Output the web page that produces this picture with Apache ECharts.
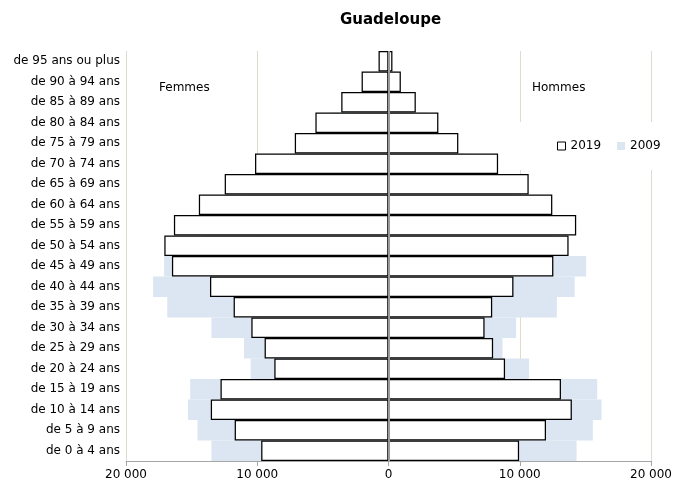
<!DOCTYPE html>
<html><head><meta charset="utf-8">
<script src="https://cdn.jsdelivr.net/npm/echarts@6/dist/echarts.min.js"></script>
<style>html,body{margin:0;padding:0;background:#fff}#c{width:675px;height:488px}</style>
</head><body><div id="c"></div>
<script>
// Categories from bottom (youngest) to top (oldest)
const categories = ['de 0 à 4 ans','de 5 à 9 ans','de 10 à 14 ans','de 15 à 19 ans','de 20 à 24 ans','de 25 à 29 ans','de 30 à 34 ans','de 35 à 39 ans','de 40 à 44 ans','de 45 à 49 ans','de 50 à 54 ans','de 55 à 59 ans','de 60 à 64 ans','de 65 à 69 ans','de 70 à 74 ans','de 75 à 79 ans','de 80 à 84 ans','de 85 à 89 ans','de 90 à 94 ans','de 95 ans ou plus'];
const femmes2019 = [9700,11720,13540,12800,8700,9440,10450,11800,13600,16500,17080,16350,14450,12480,10170,7140,5570,3600,2050,760];
const hommes2019 = [9950,12000,13970,13140,8880,7970,7320,7900,9520,12560,13720,14300,12480,10680,8350,5320,3800,2080,940,300];
const femmes2009 = [13490,14550,15280,15110,10500,11010,13490,16860,17940,17100,14150,12860,10960,8550,7160,5590,4450,2730,1260,580];
const hommes2009 = [14330,15570,16230,15900,10710,8690,9720,12830,14180,15060,12350,10960,9390,6940,5820,4050,2940,1750,640,200];
const xTicks = [-20000, -10000, 0, 10000, 20000];

const FONT = 'DejaVu Sans';
const fmt = v => String(Math.abs(v)).replace(/\B(?=(\d{3})+(?!\d))/g, ' ');

const chart = echarts.init(document.getElementById('c'), null, {renderer: 'canvas'});
const barCommon = {type: 'bar', barWidth: '100%', barCategoryGap: '0%', barGap: '-100%', silent: true};
chart.setOption({
  animation: false,
  backgroundColor: '#fff',
  title: {
    text: 'Guadeloupe', left: 335, top: 8,
    textStyle: {fontFamily: FONT, fontWeight: 'bold', fontSize: 15, color: '#000'}
  },
  legend: {
    data: [
      {name: '2019', itemStyle: {color: '#fff', borderColor: '#000', borderWidth: 1}},
      {name: '2009', itemStyle: {color: '#dce6f2', borderWidth: 0}}
    ],
    icon: 'rect', itemWidth: 8, itemHeight: 8, itemGap: 16,
    left: 512, top: 122,
    padding: [18, 10, 18, 45],
    backgroundColor: '#fff',
    textStyle: {fontFamily: FONT, fontSize: 12, color: '#000'},
    selectedMode: false
  },
  graphic: [
    {type: 'text', left: 159, top: 82, style: {text: 'Femmes', font: '12px "DejaVu Sans"', fill: '#000'}},
    {type: 'text', left: 532, top: 82, style: {text: 'Hommes', font: '12px "DejaVu Sans"', fill: '#000'}}
  ],
  grid: {left: 126, right: 22, top: 51, bottom: 27, containLabel: false},
  xAxis: {
    type: 'value', min: xTicks[0], max: xTicks[xTicks.length - 1], interval: 10000,
    axisLine: {show: true, lineStyle: {color: '#a6a6a6', width: 1}},
    axisTick: {show: true, length: 5, lineStyle: {color: '#a6a6a6'}},
    axisLabel: {formatter: fmt, fontFamily: FONT, fontSize: 12, color: '#000', margin: 8},
    splitLine: {show: true, lineStyle: {color: '#dedbcf', width: 1}}
  },
  yAxis: {
    type: 'category', data: categories,
    axisLine: {show: false}, axisTick: {show: false},
    axisLabel: {fontFamily: FONT, fontSize: 12, color: '#000', margin: 6},
    splitLine: {show: false}
  },
  series: [
    Object.assign({name: '2009', stack: 's2009', data: femmes2009.map(v => -v),
      itemStyle: {color: '#dce6f2'}}, barCommon),
    Object.assign({name: '2009', stack: 's2009', data: hommes2009,
      itemStyle: {color: '#dce6f2'}}, barCommon),
    Object.assign({name: '2019', stack: 's2019', data: femmes2019.map(v => -v),
      itemStyle: {color: '#fff', borderColor: '#000', borderWidth: 1.25}}, barCommon),
    Object.assign({name: '2019', stack: 's2019', data: hommes2019,
      itemStyle: {color: '#fff', borderColor: '#000', borderWidth: 1.25},
      markLine: {silent: true, symbol: 'none', label: {show: false},
        lineStyle: {color: '#999', width: 2, type: 'solid'}, data: [{xAxis: 0}]}}, barCommon)
  ]
});
</script>
</body></html>
